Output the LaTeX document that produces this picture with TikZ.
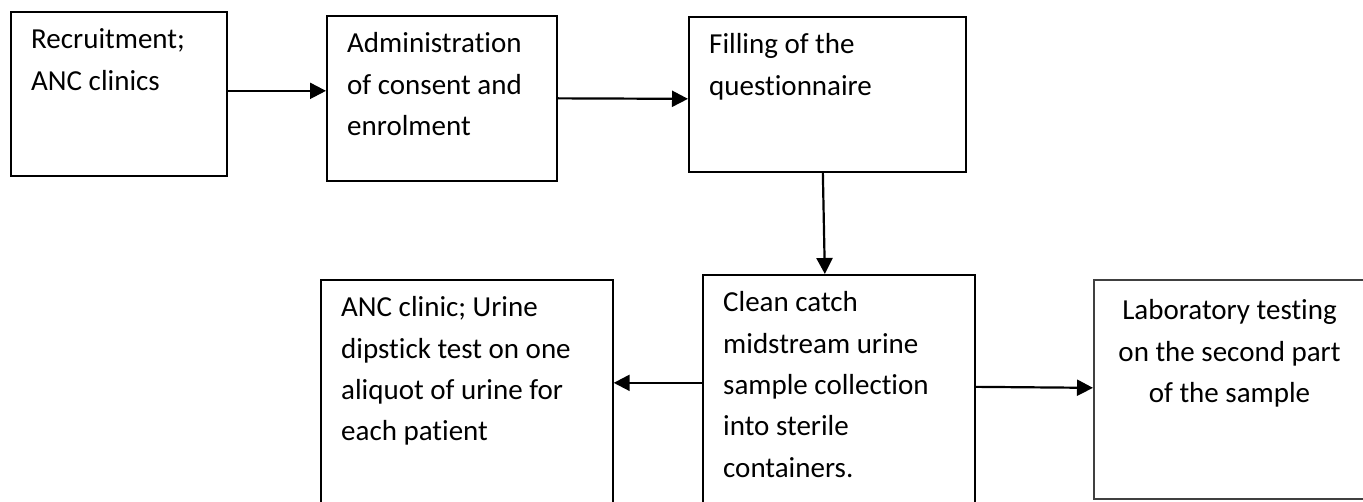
\documentclass[tikz,border=0pt]{standalone}
\usepackage{fontspec}
\setmainfont{Carlito}[Ligatures={NoCommon}]
\usetikzlibrary{arrows.meta}
\tikzset{
  stepbox/.style={draw=black, line width=1.7pt, anchor=north west, inner sep=0pt},
  graybox/.style={stepbox, draw=black!75},
  lbl/.style={inner sep=0pt, font=\fontsize{29}{41.3}\selectfont},
  conn/.style={line width=2.2pt, -{Triangle[length=16pt,width=16pt]}}
}
\begin{document}
\begin{tikzpicture}[x=1pt,y=1pt]
\useasboundingbox (0,0) rectangle (1363,-502);
\clip (0,0) rectangle (1363,-502);
\node[stepbox, minimum width=216pt, minimum height=164pt] (b1) at (10,-11) {};
\node[stepbox, minimum width=230pt, minimum height=165pt] (b2) at (326,-15) {};
\node[stepbox, minimum width=277pt, minimum height=155pt] (b3) at (688,-16) {};
\node[stepbox, minimum width=292pt, minimum height=241pt] (b4) at (320,-279) {};
\node[stepbox, minimum width=272pt, minimum height=246pt] (b5) at (702,-274) {};
\node[graybox, minimum width=277pt, minimum height=219pt] (b6) at (1093,-279) {};

\node[lbl, anchor=base west] (t1) at (31,-49) {\begin{tabular}[t]{@{}l@{}}Recruitment;\\ANC clinics\end{tabular}};
\node[lbl, anchor=base west] (t2) at (347,-53) {\begin{tabular}[t]{@{}l@{}}Administration\\of consent and\\enrolment\end{tabular}};
\node[lbl, anchor=base west] (t3) at (709,-54) {\begin{tabular}[t]{@{}l@{}}Filling of the\\questionnaire\end{tabular}};
\node[lbl, anchor=base west] (t4) at (341,-317) {\begin{tabular}[t]{@{}l@{}}ANC clinic; Urine\\dipstick test on one\\aliquot of urine for\\each patient\end{tabular}};
\node[lbl, anchor=base west] (t5) at (723,-312) {\begin{tabular}[t]{@{}l@{}}Clean catch\\midstream urine\\sample collection\\into sterile\\containers.\end{tabular}};
\node[lbl, anchor=base] (t6) at (1229.5,-320) {\begin{tabular}[t]{@{}c@{}}Laboratory testing\\on the second part\\of the sample\end{tabular}};

\draw[conn] ([yshift=3pt]b1.east) -- ([yshift=7.5pt]b2.west);
\draw[conn] (b2.east) -- ([yshift=-4.5pt]b3.west);
\draw[conn] ([xshift=-4.5pt]b3.south) -- ([xshift=-14pt]b5.north);
\draw[conn] ([yshift=15pt]b5.west) -- ([yshift=17.5pt]b4.east);
\draw[conn] ([yshift=11pt]b5.east) -- ([yshift=1.5pt]b6.west);
\end{tikzpicture}
\end{document}
